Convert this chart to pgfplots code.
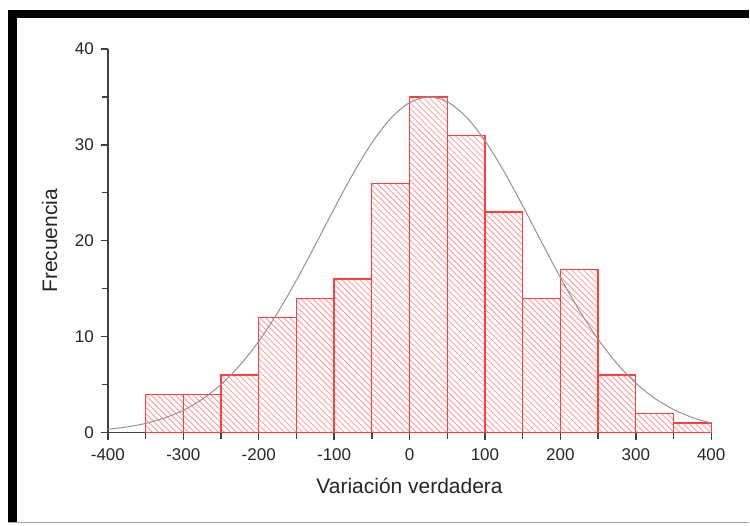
\documentclass[border=0pt]{standalone}
\usepackage{pgfplots}
\pgfplotsset{compat=1.18}
\usepackage{fontspec}
\setmainfont{Liberation Sans}
\usetikzlibrary{patterns}
\begin{document}
\begin{tikzpicture}
% background and frame (1px = 0.5pt)
\fill[white] (-54pt,-46.5pt) rectangle (321pt,216.5pt);
\begin{axis}[
  at={(0,0)}, anchor=south west,
  scale only axis, width=302pt, height=192pt,
  xmin=-400, xmax=400, ymin=0, ymax=40,
  axis x line=bottom, axis y line=left,
  axis line style={-, black!75, line width=0.8pt},
  tick style={black!75, line width=0.7pt},
  tick align=outside,
  major tick length=3.5pt, minor tick length=3pt,
  xtick={-400,-300,...,400}, ytick={0,10,...,40},
  minor x tick num=1, minor y tick num=1,
  /pgf/number format/assume math mode=true,
  ticklabel style={font=\fontsize{8.5}{10}\selectfont, text=black!85},
  xticklabel style={yshift=-1pt},
  label style={font=\fontsize{10.5}{12}\selectfont, text=black!85},
  xlabel={Variación verdadera},
  ylabel={Frecuencia},
  xlabel style={yshift=-2pt},
  ylabel style={yshift=2pt},
  clip=false,
]
\addplot[ybar interval, draw=red!75, line width=0.65pt, pattern=north west lines, pattern color=red!40]
coordinates {
(-350,4) (-300,4) (-250,6) (-200,12) (-150,14) (-100,16) (-50,26)
(0,35) (50,31) (100,23) (150,14) (200,17) (250,6) (300,2) (350,1) (400,1)
};
\addplot[smooth, gray!85, line width=0.5pt, mark=none]
coordinates {
(-400,0.342) (-375,0.579) (-350,0.950) (-325,1.510) (-300,2.326) (-275,3.470)
(-250,5.013) (-225,7.016) (-200,9.510) (-175,12.487) (-150,15.882) (-125,19.564)
(-100,23.344) (-75,26.980) (-50,30.205) (-25,32.753) (0,34.401) (25,35.0)
(50,34.489) (75,32.921) (100,30.437) (125,27.257) (150,23.645) (175,19.866)
(200,16.167) (225,12.745) (250,9.731) (275,7.197) (300,5.157) (325,3.578)
(350,2.405) (375,1.566) (400,0.987)
};
\end{axis}
\fill[black] (-50pt,207.5pt) rectangle (321pt,211.5pt);
\fill[black] (-50pt,-45pt) rectangle (-45.5pt,211.5pt);
\draw[gray!70, line width=0.8pt] (-50pt,-45pt) -- (321pt,-45pt);
\end{tikzpicture}
\end{document}
